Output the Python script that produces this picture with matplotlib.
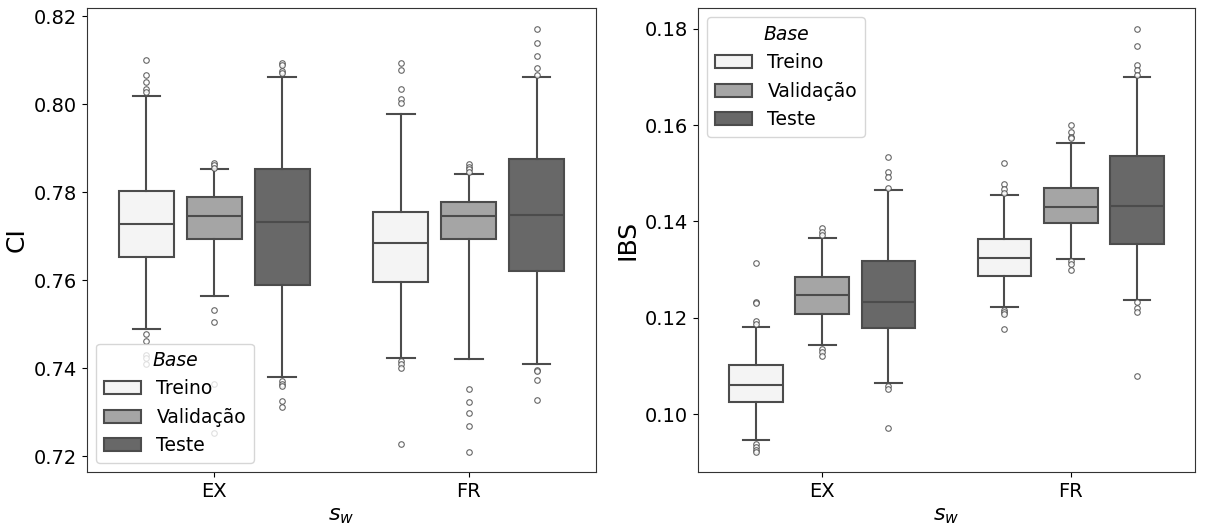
import matplotlib
matplotlib.use('Agg')
import matplotlib.pyplot as plt
import numpy as np
from matplotlib.patches import Patch

plt.rcParams['font.family'] = 'DejaVu Sans'

GROUPS = ['EX', 'FR']
BASES = ['Treino', 'Validação', 'Teste']
COLORS = ['#f4f4f4', '#a5a5a5', '#686868']
LINE_COLOR = '#4c4c4c'

# order: EX-Treino, EX-Validação, EX-Teste, FR-Treino, FR-Validação, FR-Teste
CI_LO  = [0.7489, 0.7564, 0.7381, 0.7424, 0.7420, 0.7410]
CI_Q1  = [0.7653, 0.7694, 0.7590, 0.7596, 0.7694, 0.7622]
CI_MED = [0.7728, 0.7747, 0.7733, 0.7684, 0.7745, 0.7748]
CI_Q3  = [0.7804, 0.7789, 0.7853, 0.7755, 0.7779, 0.7876]
CI_HI  = [0.8020, 0.7854, 0.8062, 0.7978, 0.7842, 0.8062]
CI_FLIERS = [
    [0.8100, 0.8067, 0.8050, 0.8036, 0.8027, 0.7478, 0.7461, 0.7429, 0.7424, 0.7410],
    [0.7866, 0.7861, 0.7856, 0.7533, 0.7504, 0.7363, 0.7253],
    [0.8094, 0.8090, 0.8076, 0.8072, 0.7372, 0.7365, 0.7359, 0.7325, 0.7312],
    [0.8094, 0.8079, 0.8035, 0.8012, 0.8003, 0.7416, 0.7410, 0.7400, 0.7227],
    [0.7864, 0.7858, 0.7853, 0.7847, 0.7353, 0.7324, 0.7298, 0.7269, 0.7209],
    [0.8171, 0.8139, 0.8111, 0.8082, 0.8066, 0.7395, 0.7393, 0.7373, 0.7327],
]

IBS_LO  = [0.0947, 0.1143, 0.1065, 0.1223, 0.1322, 0.1237]
IBS_Q1  = [0.1026, 0.1208, 0.1179, 0.1287, 0.1397, 0.1354]
IBS_MED = [0.1060, 0.1247, 0.1233, 0.1325, 0.1431, 0.1432]
IBS_Q3  = [0.1103, 0.1285, 0.1318, 0.1364, 0.1470, 0.1536]
IBS_HI  = [0.1181, 0.1366, 0.1466, 0.1454, 0.1562, 0.1700]
IBS_FLIERS = [
    [0.1313, 0.1232, 0.1230, 0.1194, 0.1188, 0.0939, 0.0932, 0.0925, 0.0921],
    [0.1386, 0.1379, 0.1372, 0.1136, 0.1130, 0.1121],
    [0.1533, 0.1502, 0.1492, 0.1470, 0.1058, 0.1053, 0.0972],
    [0.1521, 0.1478, 0.1468, 0.1459, 0.1216, 0.1212, 0.1208, 0.1177],
    [0.1601, 0.1585, 0.1576, 0.1573, 0.1317, 0.1312, 0.1299],
    [0.1800, 0.1765, 0.1725, 0.1715, 0.1704, 0.1233, 0.1220, 0.1213, 0.1080],
]

STEP = 0.8 / 3
BOX_W = STEP * 0.81


def draw_panel(ax, lo, q1, med, q3, hi, fliers, ylabel, yticks, ylim, legend_loc):
    stats, positions, colors = [], [], []
    for g in range(len(GROUPS)):
        for b in range(len(BASES)):
            i = g * len(BASES) + b
            stats.append(dict(whislo=lo[i], q1=q1[i], med=med[i], q3=q3[i],
                              whishi=hi[i], fliers=fliers[i]))
            positions.append(g + (b - 1) * STEP)
            colors.append(COLORS[b])
    bp = ax.bxp(stats, positions=positions, widths=BOX_W, patch_artist=True,
                manage_ticks=False,
                boxprops=dict(edgecolor=LINE_COLOR, linewidth=1.5),
                medianprops=dict(color=LINE_COLOR, linewidth=1.5),
                whiskerprops=dict(color=LINE_COLOR, linewidth=1.5),
                capprops=dict(color=LINE_COLOR, linewidth=1.5),
                flierprops=dict(marker='o', markerfacecolor='white',
                                markeredgecolor=LINE_COLOR, markersize=4,
                                markeredgewidth=0.8, alpha=0.85))
    for patch, c in zip(bp['boxes'], colors):
        patch.set_facecolor(c)
    ax.set_xticks(range(len(GROUPS)))
    ax.set_xticklabels(GROUPS)
    ax.set_xlim(-0.5, 1.5)
    ax.set_ylim(*ylim)
    ax.set_yticks(yticks)
    ax.set_yticklabels([f'{t:.2f}' for t in yticks])
    ax.tick_params(labelsize=14)
    ax.set_xlabel('$s_w$', fontsize=16)
    ax.set_ylabel(ylabel, fontsize=18)
    for s in ax.spines.values():
        s.set_color('#333333')
    handles = [Patch(facecolor=c, edgecolor=LINE_COLOR, linewidth=1.5, label=l)
               for c, l in zip(COLORS, BASES)]
    leg = ax.legend(handles=handles, loc=legend_loc, fontsize=13.5,
                    title='Base', title_fontsize=13.5, framealpha=0.8)
    leg.get_title().set_fontstyle('italic')


fig = plt.figure(figsize=(12.07, 5.24), dpi=100)
ax1 = fig.add_axes([0.0721, 0.0992, 0.4217, 0.8855])
ax2 = fig.add_axes([0.5783, 0.0992, 0.4117, 0.8855])

draw_panel(ax1, CI_LO, CI_Q1, CI_MED, CI_Q3, CI_HI, CI_FLIERS, 'CI',
           [0.72, 0.74, 0.76, 0.78, 0.80, 0.82], (0.7164, 0.8219), 'lower left')
draw_panel(ax2, IBS_LO, IBS_Q1, IBS_MED, IBS_Q3, IBS_HI, IBS_FLIERS, 'IBS',
           [0.10, 0.12, 0.14, 0.16, 0.18], (0.0880, 0.1843), 'upper left')

fig.savefig('out.png', dpi=100)
